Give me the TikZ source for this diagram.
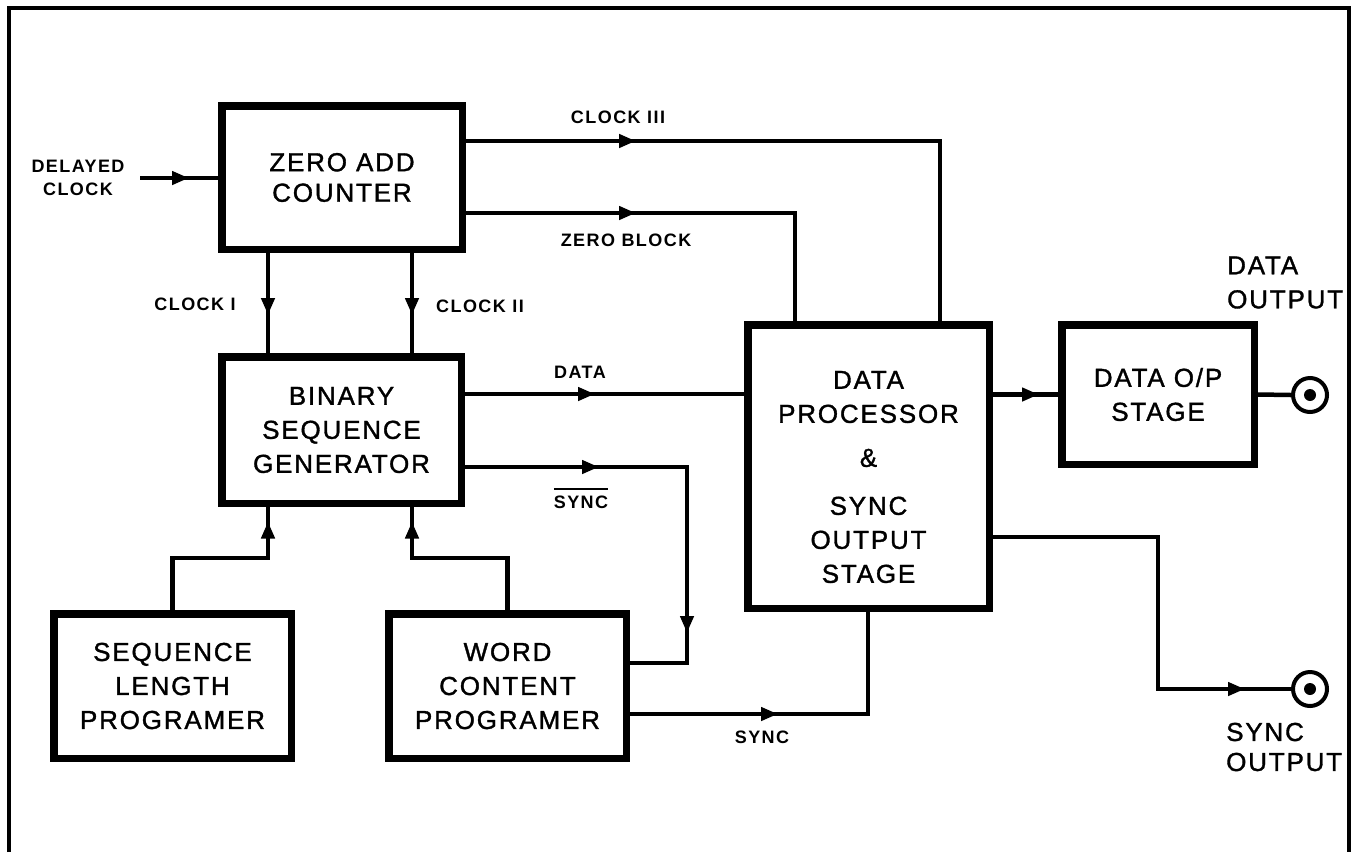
\documentclass[tikz,border=0pt]{standalone}
\usepackage{fontspec}
\newfontfamily\arialf{Liberation Sans}[LetterSpace=7,FakeBold=1.3]
\newfontfamily\arialb{Liberation Sans}[LetterSpace=8]
\usetikzlibrary{arrows.meta,decorations.markings}
\newcommand\boxfnt{\arialf\fontsize{26}{34}\selectfont}
\newcommand\zacfnt{\arialf\fontsize{26}{30.5}\selectfont}
\newcommand\sofnt{\arialf\fontsize{26}{30}\selectfont}
\newcommand\lblfnt{\arialb\bfseries\fontsize{18}{23.5}\selectfont}
\begin{document}
\begin{tikzpicture}[x=1pt,y=-1pt,
  box/.style={draw, line width=7.5pt, inner sep=0pt, align=center, font=\boxfnt},
  conn/.style={draw, line width=4.5pt},
  lbl/.style={inner sep=0pt, font=\lblfnt, align=center},
  olbl/.style={inner sep=0pt, font=\boxfnt, align=left, anchor=west},
  jack/.style={circle, draw, line width=4pt, minimum size=34pt, inner sep=0pt,
    path picture={\fill (path picture bounding box.center) circle (6pt);}},
  tipk/.tip={Triangle[length=17pt,width=13pt]},
  arr/.style={postaction={decorate},
    decoration={markings, mark=at position #1 with {\arrow{tipk}}}},
  arrr/.style 2 args={postaction={decorate},
    decoration={markings, mark=at position #1 with {\arrow{tipk}},
                          mark=at position #2 with {\arrow{tipk}}}}
]
\useasboundingbox (0,0) rectangle (1359,852);
% frame
\draw[line width=3.5pt] (9,852) -- (9,8) -- (1349,8) -- (1349,852);

% blocks
\node[box, minimum width=240.5pt, minimum height=143.5pt, font=\zacfnt] (zac) at (342,177.5) {ZERO ADD\\COUNTER};
\node[box, minimum width=239.5pt, minimum height=146.5pt] (bsg) at (341.5,430) {BINARY\\SEQUENCE\\GENERATOR};
\node[box, minimum width=241.5pt, minimum height=283.5pt] (dp) at (868.5,466.5) {};
\node[inner sep=0pt, align=center, font=\boxfnt] (dptxt) at (868.5,477) {DATA\\PROCESSOR\\[10pt]\&\\[14pt]SYNC\\OUTPUT\\STAGE};
\node[box, minimum width=192.5pt, minimum height=139.5pt] (dop) at (1158,394.5) {DATA O/P\\STAGE};
\node[box, minimum width=237.5pt, minimum height=144.5pt] (slp) at (172.5,686) {SEQUENCE\\LENGTH\\PROGRAMER};
\node[box, minimum width=237.5pt, minimum height=144.5pt] (wcp) at (507.5,686) {WORD\\CONTENT\\PROGRAMER};
\node[jack] (dout) at (1310,395) {};
\node[jack] (sout) at (1310,689) {};

% helper coordinates
\coordinate (dcin) at (140,178);
\coordinate (c1) at (268,0);
\coordinate (c2) at (412,0);
\coordinate (k3) at (940,141);
\coordinate (zb) at (795,213);
\coordinate (dl) at (0,394);
\coordinate (sb1) at (687,467);
\coordinate (sb2) at (687,663);
\coordinate (pl) at (0,558);
\coordinate (sy) at (868,714);
\coordinate (so1) at (1158,537);
\coordinate (so2) at (1158,689);

% connectors
\draw[conn, arr=49pt] (dcin) -- (zac.west |- dcin);
\draw[conn, arr=62pt] (zac.south -| c1) -- (bsg.north -| c1);
\draw[conn, arr=62pt] (zac.south -| c2) -- (bsg.north -| c2);
\draw[conn, arr=170pt] (zac.east |- k3) -- (k3) -- (dp.north -| k3);
\draw[conn, arr=170pt] (zac.east |- zb) -- (zb) -- (dp.north -| zb);
\draw[conn, arr=130pt] (bsg.east |- dl) -- (dp.west |- dl);
\draw[conn, arrr={134pt}{388pt}] (bsg.east |- sb1) -- (sb1) -- (sb2) -- (wcp.east |- sb2);
\draw[conn, arr=184pt] (slp.north) -- (slp.north |- pl) -- (c1 |- pl) -- (bsg.south -| c1);
\draw[conn, arr=184pt] (wcp.north) -- (wcp.north |- pl) -- (c2 |- pl) -- (bsg.south -| c2);
\draw[conn, arr=148pt] (wcp.east |- sy) -- (sy) -- (dp.south -| sy);
\draw[conn, arr=46pt] (dp.east |- dop.west) -- (dop.west);
\draw[conn] (dop.east) -- (dout.west);
\draw[conn, arr=404pt] (dp.east |- so1) -- (so1) -- (so2) -- (sout.west);

% labels
\node[lbl] (ldc) at (78,178) {DELAYED\\CLOCK};
\node[lbl] (l1) at (195,304) {CLOCK I};
\node[lbl] (l2) at (480,306) {CLOCK II};
\node[lbl] (l3) at (618,117) {CLOCK III};
\node[lbl] (lzb) at (626,240) {ZERO BLOCK};
\node[lbl] (ld) at (580,372) {DATA};
\node[lbl] (lsb) at (581,498) {\vbox{\hrule height 2pt\kern 6pt\hbox{SYNC}}};
\node[lbl] (ls) at (762,737) {SYNC};
\node[olbl] (ldo) at (1227,282.5) {DATA\\OUTPUT};
\node[olbl, font=\sofnt] (lso) at (1226,747) {SYNC\\OUTPUT};
\end{tikzpicture}
\end{document}
